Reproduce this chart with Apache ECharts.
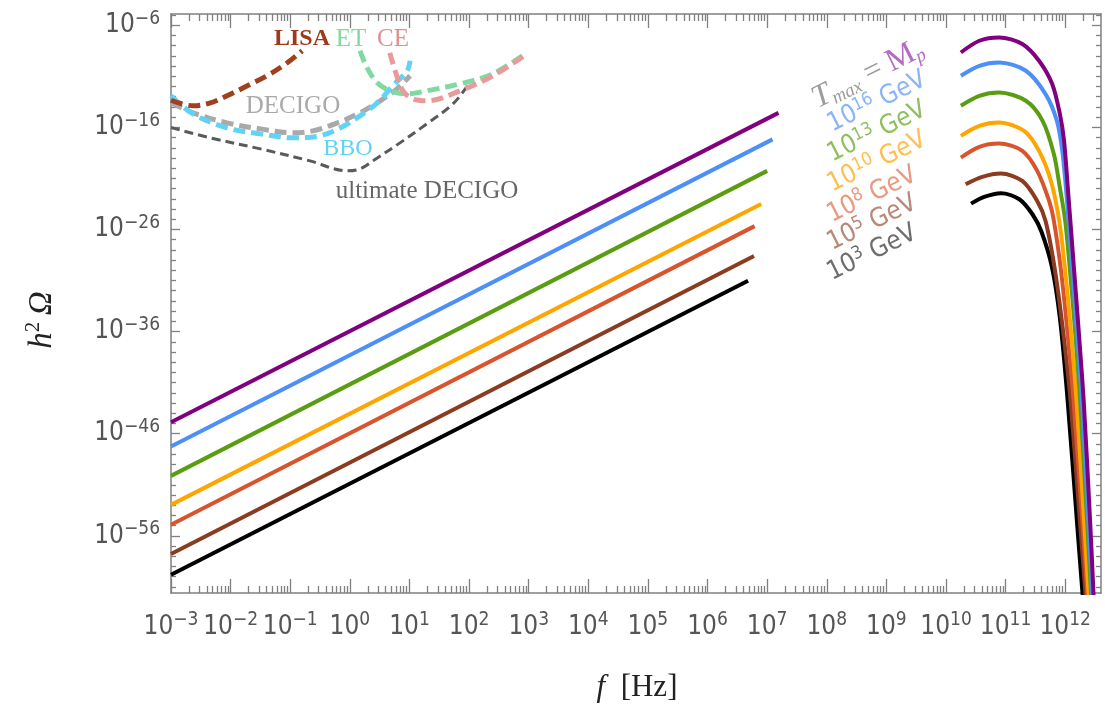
<!DOCTYPE html>
<html><head><meta charset="utf-8">
<script src="https://cdn.jsdelivr.net/npm/echarts@6.0.0/dist/echarts.min.js"></script>
<style>html,body{margin:0;padding:0;background:#fff}#c{width:1105px;height:713px}</style>
</head><body><div id="c"></div>
<script>
// ---- axis ticks (log10 exponents) ----
const xTickExp = [-3,-2,-1,0,1,2,3,4,5,6,7,8,9,10,11,12];
const yTickExp = [-6,-16,-26,-36,-46,-56];
const xRange = [-3, 12.6];
const yRange = [-61.6, -4.9];

// ---- power-law parts [log10 f, log10 h^2 Omega] ----
const lowPurple = [[-3,-44.87],[7.19,-14.58]];
const lowBlue   = [[-3,-47.26],[7.09,-17.18]];
const lowGreen  = [[-3,-50.13],[7.00,-20.26]];
const lowOrange = [[-3,-52.97],[6.90,-23.51]];
const lowRed    = [[-3,-54.92],[6.79,-25.67]];
const lowBrown  = [[-3,-57.79],[6.78,-28.60]];
const lowBlack  = [[-3,-59.82],[6.68,-31.02]];

// ---- high-frequency peaked parts ----
const highPurple = [[10.25,-8.67],[10.56,-7.52],[10.89,-7.20],[11.28,-7.84],[11.56,-9.48],[11.78,-11.74],[11.91,-14.68],[11.98,-17.32],[12.06,-23.21],[12.15,-30.07],[12.23,-36.25],[12.31,-42.81],[12.42,-54.87],[12.48,-62.42]];
const highBlue   = [[10.25,-10.95],[10.56,-9.97],[10.89,-9.65],[11.34,-10.46],[11.67,-12.75],[11.86,-15.36],[11.95,-18.30],[12.03,-23.21],[12.12,-30.07],[12.20,-36.25],[12.28,-42.81],[12.39,-54.87],[12.46,-62.42]];
const highGreen  = [[10.25,-13.89],[10.56,-12.91],[10.89,-12.59],[11.34,-13.40],[11.62,-15.36],[11.81,-18.63],[11.91,-21.90],[12.00,-25.17],[12.08,-30.07],[12.17,-36.25],[12.25,-42.81],[12.37,-54.87],[12.44,-62.42]];
const highOrange = [[10.25,-16.83],[10.56,-15.85],[10.89,-15.53],[11.31,-16.34],[11.56,-18.30],[11.76,-21.25],[11.90,-25.17],[12.00,-30.07],[12.10,-36.25],[12.19,-42.81],[12.32,-54.87],[12.40,-62.42]];
const highRed    = [[10.25,-18.96],[10.56,-17.91],[10.89,-17.59],[11.28,-18.30],[11.53,-20.26],[11.73,-23.21],[11.81,-25.17],[11.93,-30.07],[12.04,-36.25],[12.14,-42.81],[12.29,-54.87],[12.38,-62.42]];
const highBrown  = [[10.33,-21.57],[10.61,-20.85],[10.92,-20.53],[11.28,-21.25],[11.53,-23.21],[11.67,-25.17],[11.83,-30.07],[11.97,-36.25],[12.09,-42.81],[12.25,-54.87],[12.35,-62.42]];
const highBlack  = [[10.42,-23.47],[10.64,-22.81],[10.92,-22.45],[11.23,-23.04],[11.45,-24.51],[11.60,-26.20],[11.78,-29.75],[11.91,-34.65],[12.03,-42.00],[12.20,-54.87],[12.30,-62.42]];

// ---- detector sensitivity curves ----
const detLISA   = [[-3.0,-13.35],[-2.63,-13.89],[-2.34,-13.60],[-2.06,-12.91],[-1.72,-11.93],[-1.39,-10.95],[-1.05,-9.68],[-0.80,-8.50]];
const detDECIGO = [[-3.0,-13.60],[-2.63,-14.58],[-2.06,-15.56],[-1.50,-16.15],[-0.95,-16.54],[-0.62,-16.34],[-0.21,-15.56],[0.17,-14.58],[0.51,-13.40],[0.79,-12.23],[1.01,-10.95]];
const detBBO    = [[-3.0,-12.91],[-2.63,-14.68],[-2.06,-16.05],[-1.50,-16.64],[-0.95,-17.03],[-0.50,-16.83],[-0.16,-16.05],[0.17,-14.87],[0.46,-13.60],[0.72,-11.93],[0.96,-10.46],[1.01,-9.48]];
const detUDECIGO= [[-3.0,-16.02],[-2.34,-17.03],[-1.50,-18.11],[-0.67,-19.28],[-0.05,-20.26],[0.17,-20.07],[0.46,-18.99],[0.84,-17.52],[1.29,-15.66],[1.73,-13.70],[2.01,-11.64]];
const detET     = [[0.17,-8.50],[0.29,-10.17],[0.46,-11.64],[0.67,-12.42],[0.96,-12.72],[1.29,-12.42],[1.85,-11.74],[2.40,-10.75],[2.97,-8.70]];
const detCE     = [[0.67,-8.70],[0.76,-10.46],[0.89,-12.42],[1.06,-13.21],[1.29,-13.40],[1.85,-12.42],[2.40,-10.95],[2.97,-8.80]];

// ---- labels ----
const tempLabels = [
  {sup:'16', color:'#8cb4fa'},
  {sup:'13', color:'#8fbf5e'},
  {sup:'10', color:'#ffbe4d'},
  {sup:'8',  color:'#e89a80'},
  {sup:'5',  color:'#b88878'},
  {sup:'3',  color:'#6e6e6e'}
];

const C = {purple:'#800080', blue:'#4d8ff8', green:'#5b9d12', orange:'#ffa500', red:'#d8542c', brown:'#8b3b1f', black:'#000000'};
const AX = '#808080';
const SANS = "'Liberation Sans Narrow','DejaVu Sans Condensed','Liberation Sans',Arial,sans-serif";
const SERIF = "'Liberation Serif','DejaVu Serif',serif";

const chart = echarts.init(document.getElementById('c'), null, {renderer:'canvas'});

function minorX(){ const a=[]; for(let n=-3;n<=12;n++){ for(let k=2;k<=9;k++){ const v=n+Math.log10(k); if(v<xRange[1]-0.01) a.push(v);} } return a; }
function minorY(){ const a=[]; for(let n=-61;n<=-5;n++){ if(yTickExp.indexOf(n)<0) a.push(n);} return a; }

function expLabel(v){ const n=Math.round(v); return '{b|10}{e|'+(n<0?'\u2212':'')+Math.abs(n)+'}'; }
const labelRich = {
  b:{fontSize:26, fontFamily:SANS, color:'#555', lineHeight:32},
  e:{fontSize:19, fontFamily:SANS, color:'#555', lineHeight:18, verticalAlign:'top'}
};

function xAx(pos, grid, vals, len, withLabels, showLine){
  return {type:'value', gridIndex:grid, position:pos, min:xRange[0], max:xRange[1],
    axisLine:{show:showLine, onZero:false, lineStyle:{color:AX, width:1.5}},
    axisTick:{show:true, inside:true, length:len, customValues:vals, lineStyle:{color:AX, width:1.3}},
    axisLabel: withLabels ? {show:true, customValues:vals, margin:18, formatter:expLabel, rich:labelRich} : {show:false},
    splitLine:{show:false}};
}
function yAx(pos, grid, vals, len, withLabels, showLine){
  return {type:'value', gridIndex:grid, position:pos, min:yRange[0], max:yRange[1],
    axisLine:{show:showLine, onZero:false, lineStyle:{color:AX, width:1.5}},
    axisTick:{show:true, inside:true, length:len, customValues:vals, lineStyle:{color:AX, width:1.3}},
    axisLabel: withLabels ? {show:true, customValues:vals, margin:11, formatter:expLabel, rich:labelRich} : {show:false},
    splitLine:{show:false}};
}

const gridRect = {left:171, top:14, width:930, height:579};

function curve(data, color){
  return {type:'line', xAxisIndex:0, yAxisIndex:0, data, symbol:'none', smooth:0.3,
    clip:true, lineStyle:{color, width:4}, z:3};
}
function dashed(data, color, w, dash){
  return {type:'line', xAxisIndex:0, yAxisIndex:0, data, symbol:'none', smooth:0.35,
    clip:true, lineStyle:{color, width:w, type:dash, cap:'butt'}, z:2};
}

const series = [
  dashed(detUDECIGO,'#5a5a5a',3,[9,5]),
  dashed(detDECIGO,'#a9a9a9',5,[12,6]),
  dashed(detBBO,'#62d2f5',5,[12,6]),
  dashed(detLISA,'#a0401f',5,[12,6]),
  dashed(detET,'#7fd9a0',5,[12,6]),
  dashed(detCE,'#e99a9a',5,[12,6]),
  curve(lowPurple,C.purple), curve(lowBlue,C.blue), curve(lowGreen,C.green), curve(lowOrange,C.orange),
  curve(lowRed,C.red), curve(lowBrown,C.brown), curve(lowBlack,C.black),
  curve(highBlack,C.black), curve(highBrown,C.brown), curve(highRed,C.red), curve(highOrange,C.orange),
  curve(highGreen,C.green), curve(highBlue,C.blue), curve(highPurple,C.purple)
];

// text annotations
const graphics = [];
const rot = 0.46;
graphics.push({type:'text', x:868, y:74, rotation:rot, z:10, style:{
  text:'{t|T}{m|max}{q| = }{p|M}{s|p}', align:'center', verticalAlign:'middle',
  rich:{
    t:{fontFamily:SERIF, fontStyle:'italic', fontSize:32, fill:'#9c9c9c', lineHeight:34},
    m:{fontFamily:SERIF, fontStyle:'italic', fontSize:19, fill:'#9c9c9c', lineHeight:18, verticalAlign:'bottom'},
    q:{fontFamily:SERIF, fontSize:31, fill:'#9c9c9c', lineHeight:34},
    p:{fontFamily:SERIF, fontSize:32, fill:'#b56bc2', lineHeight:34},
    s:{fontFamily:SERIF, fontStyle:'italic', fontSize:19, fill:'#b56bc2', lineHeight:18, verticalAlign:'bottom'}
  }}});
const tCenters = [[877,102],[877,132],[877,162],[872,195],[872,223],[872,253]];
tempLabels.forEach((t,i)=>{
  graphics.push({type:'text', x:tCenters[i][0], y:tCenters[i][1], rotation:rot, z:10, style:{
    text:'{b|10}{e|'+t.sup+'}{b| GeV}', align:'center', verticalAlign:'middle',
    rich:{
      b:{fontFamily:SANS, fontSize:26, fill:t.color, lineHeight:30},
      e:{fontFamily:SANS, fontSize:18, fill:t.color, lineHeight:17, verticalAlign:'top'}
    }}});
});
const detLabels = [
  {t:'LISA', x:302, y:39, c:'#9b3a1c', w:'bold', s:24},
  {t:'ET', x:351, y:39, c:'#7fd9a0', w:'normal', s:25},
  {t:'CE', x:393, y:39, c:'#e38e8e', w:'normal', s:25},
  {t:'DECIGO', x:293, y:106, c:'#a9a9a9', w:'normal', s:25},
  {t:'BBO', x:348, y:149, c:'#62d2f5', w:'normal', s:24},
  {t:'ultimate DECIGO', x:427, y:191, c:'#666666', w:'normal', s:25}
];
detLabels.forEach(d=>{
  graphics.push({type:'text', x:d.x, y:d.y, z:10, style:{text:d.t, fill:d.c, fontFamily:SERIF, fontWeight:d.w, fontSize:d.s, align:'center', verticalAlign:'middle'}});
});
// axis titles
graphics.push({type:'text', x:42, y:320, rotation:Math.PI/2, style:{
  text:'{h|h}{s|2}{o|\u2009\u03A9}', align:'center', verticalAlign:'middle',
  rich:{
    h:{fontFamily:SERIF, fontStyle:'italic', fontSize:33, fill:'#222', lineHeight:38},
    s:{fontFamily:SERIF, fontSize:21, fill:'#222', lineHeight:20, verticalAlign:'top'},
    o:{fontFamily:SERIF, fontStyle:'italic', fontSize:33, fill:'#222', lineHeight:38}
  }}});
graphics.push({type:'text', x:637, y:688, style:{
  text:'{f|f}{n|  [Hz]}', align:'center', verticalAlign:'middle',
  rich:{
    f:{fontFamily:SERIF, fontStyle:'italic', fontSize:31, fill:'#222'},
    n:{fontFamily:SERIF, fontSize:31, fill:'#222'}
  }}});

chart.setOption({
  animation:false,
  backgroundColor:'#fff',
  grid:[Object.assign({containLabel:false}, gridRect), Object.assign({containLabel:false}, gridRect)],
  xAxis:[
    xAx('bottom',0,xTickExp,14,true,true),
    xAx('top',0,xTickExp,14,false,true),
    xAx('bottom',1,minorX(),7,false,false),
    xAx('top',1,minorX(),7,false,false)
  ],
  yAxis:[
    yAx('left',0,yTickExp,9,true,true),
    yAx('right',0,yTickExp,9,false,true),
    yAx('left',1,minorY(),5,false,false),
    yAx('right',1,minorY(),5,false,false)
  ],
  series,
  graphic:graphics
});
</script></body></html>
